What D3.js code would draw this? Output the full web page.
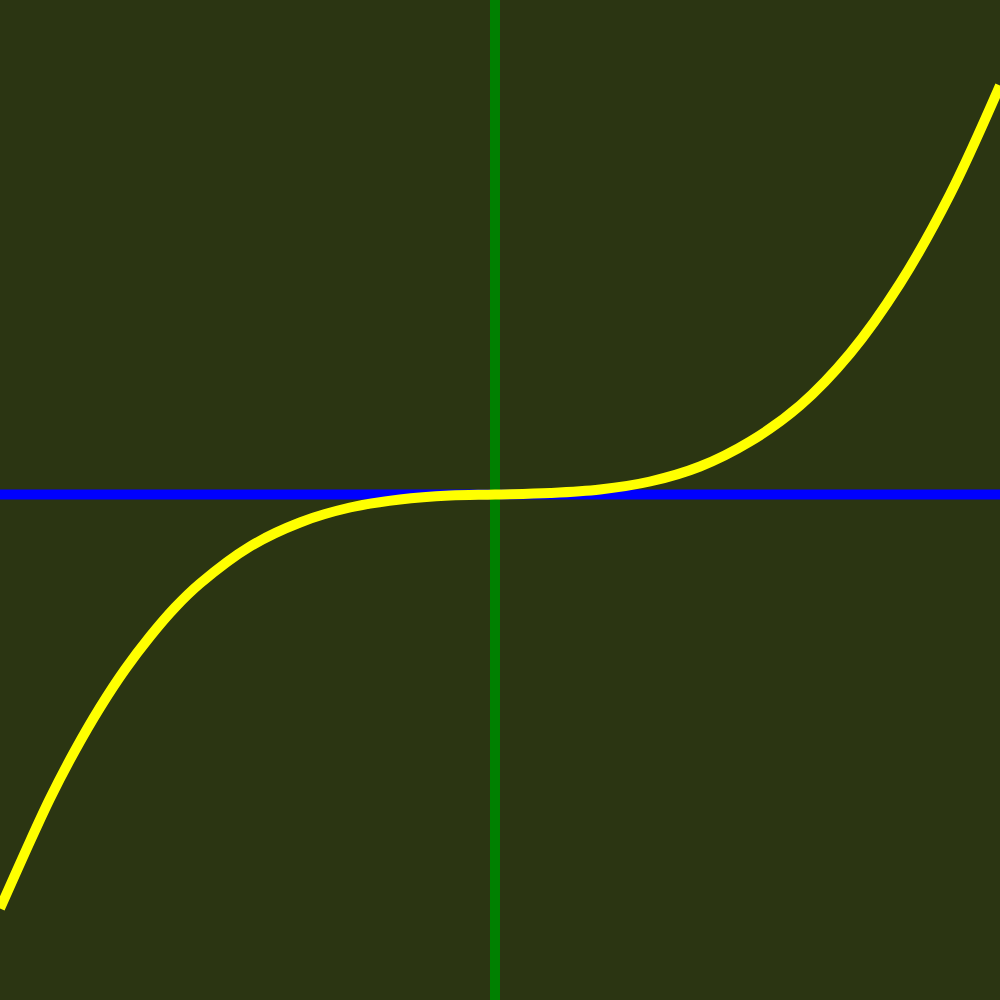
<!DOCTYPE html>
<html>
<head>
<meta charset="utf-8">
<script src="https://cdn.jsdelivr.net/npm/d3@7"></script>
<style>
  html, body { margin: 0; padding: 0; background: #2b3512; }
  svg { display: block; }
</style>
</head>
<body>
<svg id="chart" width="1000" height="1000"></svg>
<script>
// Values
const xValues = [-9.9, -9.4, -8.9, -8.4, -7.9, -7.4, -6.9, -6.4, -5.9, -4.9, -3.9, -2.9, -1.9, -0.9, 0,
                 1.1, 2.1, 3.1, 4.1, 5.1, 6.1, 7.1, 8.1, 9.1, 10.1];
const yValues = [-8.28, -7.16, -6.08, -5.12, -4.26, -3.50, -2.84, -2.26, -1.78, -1.04, -0.56, -0.26, -0.10, -0.02, 0,
                 0.03, 0.10, 0.26, 0.56, 1.06, 1.78, 2.82, 4.22, 6.00, 8.18];
const xDomain = [-9.9, 10.1];
const yDomain = [-10.11, 9.89];

const W = 1000, H = 1000;
const svg = d3.select("#chart");

svg.append("rect").attr("width", W).attr("height", H).attr("fill", "#2b3512");

const x = d3.scaleLinear().domain(xDomain).range([0, W]);
const y = d3.scaleLinear().domain(yDomain).range([H, 0]);

// horizontal axis (blue)
svg.append("line")
  .attr("x1", x(xDomain[0])).attr("x2", x(xDomain[1]))
  .attr("y1", y(0)).attr("y2", y(0))
  .attr("stroke", "#0000ff").attr("stroke-width", 10);

// vertical axis (green)
svg.append("line")
  .attr("x1", x(0)).attr("x2", x(0))
  .attr("y1", y(yDomain[0])).attr("y2", y(yDomain[1]))
  .attr("stroke", "#008000").attr("stroke-width", 10);

const pts = xValues.map((v, i) => [v, yValues[i]]);
const line = d3.line()
  .x(d => x(d[0]))
  .y(d => y(d[1]))
  .curve(d3.curveCatmullRom.alpha(0.5));

svg.append("path")
  .datum(pts)
  .attr("d", line)
  .attr("fill", "none")
  .attr("stroke", "#ffff00")
  .attr("stroke-width", 10);
</script>
</body>
</html>
